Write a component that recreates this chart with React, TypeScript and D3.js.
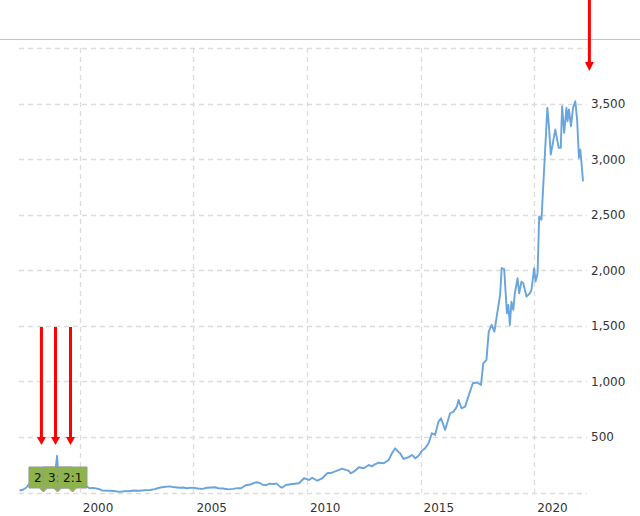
import React, { useEffect } from "react";
import * as d3 from "d3";

// ---- data (decimal year, share price in USD) ----
const years = [
  1997.35, 1997.5, 1997.65, 1997.8, 1997.95, 1998.15, 1998.3, 1998.45, 1998.6, 1998.8,
  1998.93, 1999.0, 1999.06, 1999.2, 1999.3, 1999.45, 1999.6, 1999.7, 1999.85, 1999.97,
  2000.1, 2000.25, 2000.44, 2000.6, 2000.88, 2001.0, 2001.3, 2001.5, 2001.75, 2001.95,
  2002.2, 2002.4, 2002.6, 2002.85, 2003.1, 2003.3, 2003.5, 2003.7, 2003.95, 2004.1,
  2004.4, 2004.55, 2004.7, 2004.95, 2005.2, 2005.4, 2005.6, 2005.8, 2005.95, 2006.1,
  2006.3, 2006.55, 2006.75, 2006.95, 2007.1, 2007.3, 2007.5, 2007.75, 2007.9, 2008.05,
  2008.2, 2008.35, 2008.55, 2008.65, 2008.8, 2008.9, 2009.07, 2009.36, 2009.65, 2009.87,
  2010.09, 2010.23, 2010.45, 2010.67, 2010.89, 2011.1, 2011.33, 2011.55, 2011.7, 2011.84,
  2011.92, 2012.06, 2012.28, 2012.5, 2012.72, 2012.85, 2012.94, 2013.16, 2013.38, 2013.6,
  2013.74, 2013.88, 2014.0, 2014.1, 2014.25, 2014.47, 2014.62, 2014.77, 2014.9, 2015.06,
  2015.2, 2015.35, 2015.5, 2015.64, 2015.79, 2015.9, 2016.08, 2016.3, 2016.45, 2016.6,
  2016.67, 2016.8, 2016.96, 2017.1, 2017.3, 2017.5, 2017.66, 2017.76, 2017.9, 2018.0,
  2018.13, 2018.25, 2018.35, 2018.5, 2018.57, 2018.68, 2018.8, 2018.86, 2018.93, 2019.0,
  2019.08, 2019.15, 2019.27, 2019.34, 2019.44, 2019.52, 2019.66, 2019.81, 2019.88, 2020.0,
  2020.06, 2020.15, 2020.22, 2020.32, 2020.58, 2020.65, 2020.73, 2020.93, 2021.08, 2021.17,
  2021.23, 2021.32, 2021.42, 2021.47, 2021.53, 2021.62, 2021.71, 2021.81, 2021.89, 2021.97,
  2022.03, 2022.07, 2022.15,
];
const prices = [
  18, 25, 45, 85, 60, 70, 100, 90, 100, 110,
  200, 330, 150, 130, 190, 130, 115, 80, 80, 100,
  70, 60, 38, 42, 29, 17, 16, 14, 6, 11,
  14, 18, 16, 20, 22, 30, 43, 50, 55, 50,
  43, 45, 38, 44, 36, 33, 43, 45, 47, 38,
  36, 28, 33, 39, 38, 65, 72, 92, 88, 70,
  66, 80, 76, 82, 55, 43, 67, 77, 83, 128,
  113, 133, 106, 128, 173, 178, 196, 214, 203, 196,
  173, 187, 227, 218, 248, 235, 248, 268, 263, 293,
  353, 398, 370, 353, 302, 317, 338, 308, 329, 375,
  398, 443, 533, 518, 638, 668, 563, 713, 728, 773,
  833, 758, 773, 863, 983, 990, 968, 1163, 1193, 1448,
  1508, 1448, 1583, 1778, 2020, 2010, 1613, 1688, 1508, 1718,
  1643, 1793, 1928, 1793, 1898, 1883, 1763, 1793, 1823, 2018,
  1898, 1973, 2485, 2455, 3461, 3296, 3041, 3266, 3101, 3101,
  3476, 3236, 3461, 3341, 3446, 3296, 3461, 3521, 3356, 3011,
  3086, 2996, 2800,
];

const yTicks = [0, 500, 1000, 1500, 2000, 2500, 3000, 3500, 4000];
const yLabelTicks = [500, 1000, 1500, 2000, 2500, 3000, 3500];
const xTicks = [2000, 2005, 2010, 2015, 2020];

const splitDates = [1998.4, 1999.02, 1999.68];
const splitLabels = ["2:1", "3:1", "2:1"];
const upcomingSplit = 2022.43;

const W = 640;
const H = 516;

export default function App() {
  useEffect(() => {
    document.body.style.margin = "0";
  }, []);

  const x = d3.scaleLinear().domain([1997.325, 2022.325]).range([19, 587]);
  const y = d3.scaleLinear().domain([0, 4000]).range([492.5, 48]);

  const data = years.map((yr, i) => [yr, prices[i]] as [number, number]);
  const line = d3
    .line<[number, number]>()
    .x((d) => x(d[0]))
    .y((d) => y(d[1]));

  const fmt = d3.format(",");
  const gridColor = "#dcdcdc";
  const font = "'DejaVu Sans', Verdana, sans-serif";
  const [x0, x1] = x.range();
  const [yb, yt] = [y(0), y(4000)];

  const boxW = 29;
  const boxH = 21;
  const boxTop = 467;

  return (
    <svg width={W} height={H} style={{ display: "block" }} fontFamily={font}>
      <defs>
        {splitDates.map((d, i) => {
          const left = x(d) - boxW / 2;
          const next = i < splitDates.length - 1 ? x(splitDates[i + 1]) - boxW / 2 : left + boxW;
          return (
            <clipPath id={"clip" + i} key={"c" + i}>
              <rect x={left} y={boxTop} width={next - left} height={boxH} />
            </clipPath>
          );
        })}
      </defs>
      <rect x={0} y={0} width={W} height={H} fill="#fff" />
      <line x1={0} x2={W} y1={39.5} y2={39.5} stroke="#c4c4c4" strokeWidth={1} />

      {/* horizontal grid */}
      {yTicks.map((t) => (
        <line
          key={"h" + t}
          x1={x0}
          x2={x1}
          y1={Math.round(y(t)) + 0.5}
          y2={Math.round(y(t)) + 0.5}
          stroke={gridColor}
          strokeWidth={1.3}
          strokeDasharray="5,4"
        />
      ))}
      {/* vertical grid */}
      {xTicks.map((t) => (
        <line
          key={"v" + t}
          x1={Math.round(x(t)) + 0.5}
          x2={Math.round(x(t)) + 0.5}
          y1={yt}
          y2={yb}
          stroke={gridColor}
          strokeWidth={1.3}
          strokeDasharray="5,4"
        />
      ))}

      {/* y labels */}
      {yLabelTicks.map((t) => (
        <text key={"yl" + t} x={591} y={y(t) + 4.5} fontSize={12} fill="#333">
          {fmt(t)}
        </text>
      ))}
      {/* x labels */}
      {xTicks.map((t) => (
        <text key={"xl" + t} x={x(t) + 3} y={512} fontSize={12} fill="#333">
          {t}
        </text>
      ))}

      {/* price line */}
      <path
        d={line(data) || ""}
        fill="none"
        stroke="#69a4dc"
        strokeWidth={1.9}
        strokeLinejoin="round"
      />

      {/* split flags */}
      {splitDates.map((d, i) => {
        const cx = x(d);
        const left = cx - boxW / 2;
        return (
          <g key={"s" + i}>
            <path
              d={`M${left},${boxTop} h${boxW} v${boxH} h${-(boxW / 2 - 4)} l-4,4 l-4,-4 h${-(boxW / 2 - 4)} Z`}
              fill="#8cb44a"
              stroke="#9a9a9a"
              strokeWidth={1}
            />
            <text x={left + 5} y={481.5} fontSize={12} fill="#111" clipPath={`url(#clip${i})`}>
              {splitLabels[i]}
            </text>
          </g>
        );
      })}

      {/* red arrows for splits */}
      {splitDates.map((d, i) => {
        const ax = x(d) - 2;
        return (
          <g key={"a" + i}>
            <line x1={ax} x2={ax} y1={327} y2={438} stroke="#ff0000" strokeWidth={3} />
            <path d={`M${ax - 4.5},437 L${ax + 4.5},437 L${ax},445 Z`} fill="#ff0000" />
          </g>
        );
      })}
      <g>
        <line
          x1={x(upcomingSplit)}
          x2={x(upcomingSplit)}
          y1={0}
          y2={63}
          stroke="#ff0000"
          strokeWidth={3}
        />
        <path
          d={`M${x(upcomingSplit) - 4.5},62 L${x(upcomingSplit) + 4.5},62 L${x(upcomingSplit)},71 Z`}
          fill="#ff0000"
        />
      </g>
    </svg>
  );
}
